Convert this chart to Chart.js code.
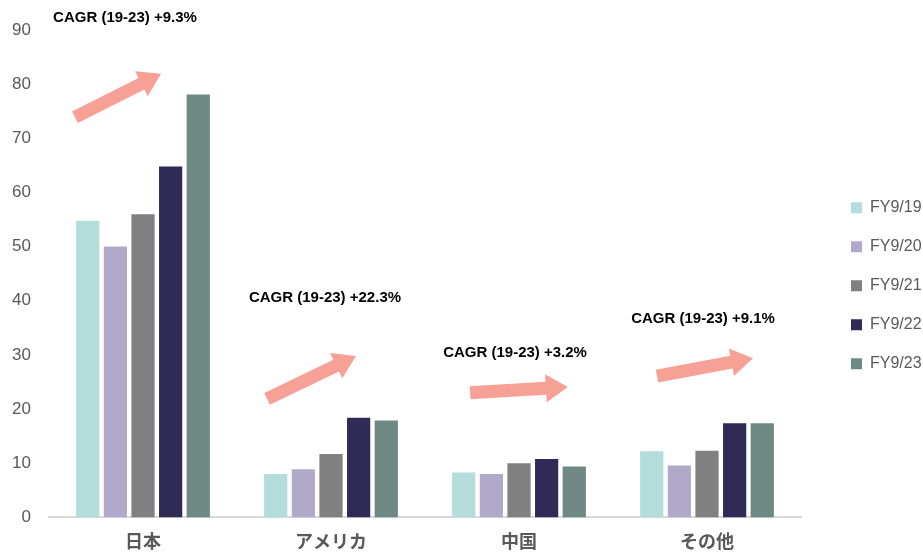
<!DOCTYPE html>
<html>
<head>
<meta charset="utf-8">
<script src="https://cdn.jsdelivr.net/npm/chart.js@4"></script>
<style>
  html, body { margin: 0; padding: 0; background: #fff; }
  #wrap { width: 923px; height: 553px; }
</style>
</head>
<body>
<div id="wrap"><canvas id="chart" width="923" height="553"></canvas></div>
<script>
// chart data
const categories = ['日本', 'アメリカ', '中国', 'その他'];
const seriesNames = ['FY9/19', 'FY9/20', 'FY9/21', 'FY9/22', 'FY9/23'];
const fy19 = [54.8, 8.0, 8.3, 12.2];
const fy20 = [50.0, 8.9, 8.0, 9.6];
const fy21 = [56.0, 11.7, 10.0, 12.3];
const fy22 = [64.8, 18.4, 10.8, 17.4];
const fy23 = [78.1, 17.9, 9.4, 17.4];
const cagrLabels = ['CAGR (19-23) +9.3%', 'CAGR (19-23) +22.3%', 'CAGR (19-23) +3.2%', 'CAGR (19-23) +9.1%'];
const yTicks = [0, 10, 20, 30, 40, 50, 60, 70, 80, 90];

const colors = ['#b3dcdb', '#b0a9c9', '#808080', '#302a56', '#6e8883'];
const FONT = "'Liberation Sans', Arial, 'Noto Sans CJK JP', sans-serif";

// annotation placement: x as fraction of category width from its centre, y in axis units
const labelPos = [
    { dx: -0.096, y: 92.2 },
    { dx: -0.032, y: 40.6 },
    { dx: -0.021, y: 30.4 },
    { dx: -0.021, y: 36.7 }
];
const arrowPos = [
    { x0: -0.362, y0: 73.9, x1: 0.096, y1: 81.9 },
    { x0: -0.34, y0: 21.9, x1: 0.133, y1: 29.8 },
    { x0: -0.26, y0: 23.0, x1: 0.26, y1: 24.1 },
    { x0: -0.266, y0: 26.1, x1: 0.245, y1: 29.4 }
];

const seriesData = [fy19, fy20, fy21, fy22, fy23];

function drawArrow(ctx, x0, y0, x1, y1) {
    const ang = Math.atan2(y1 - y0, x1 - x0);
    const len = Math.hypot(x1 - x0, y1 - y0);
    const shaft = 6.5, head = 14, headLen = 22;
    ctx.save();
    ctx.translate(x0, y0);
    ctx.rotate(ang);
    ctx.beginPath();
    ctx.moveTo(0, -shaft);
    ctx.lineTo(len - headLen, -shaft);
    ctx.lineTo(len - headLen, -head);
    ctx.lineTo(len, 0);
    ctx.lineTo(len - headLen, head);
    ctx.lineTo(len - headLen, shaft);
    ctx.lineTo(0, shaft);
    ctx.closePath();
    ctx.fillStyle = '#f7a196';
    ctx.fill();
    ctx.restore();
}

const cagrPlugin = {
    id: 'cagr',
    afterDatasetsDraw(chart) {
        const ctx = chart.ctx;
        const x = chart.scales.x, y = chart.scales.y;
        const catW = x.getPixelForValue(1) - x.getPixelForValue(0);
        categories.forEach((c, i) => {
            const cx = x.getPixelForValue(i);
            const a = arrowPos[i];
            drawArrow(ctx, cx + a.x0 * catW, y.getPixelForValue(a.y0), cx + a.x1 * catW, y.getPixelForValue(a.y1));
            const l = labelPos[i];
            ctx.save();
            ctx.font = 'bold 15px ' + FONT;
            ctx.fillStyle = '#000';
            ctx.textAlign = 'center';
            ctx.textBaseline = 'middle';
            ctx.fillText(cagrLabels[i], cx + l.dx * catW, y.getPixelForValue(l.y));
            ctx.restore();
        });
    }
};

const legendFix = {
    id: 'legendFix',
    beforeInit(chart) {
        const fit = chart.legend.fit;
        chart.legend.fit = function () {
            fit.call(this);
            this.width = 122;
        };
    },
    afterLayout(chart) {
        chart.legend.left += 27;
        chart.legend.top += 12;
        chart.legend.bottom += 12;
    }
};

new Chart(document.getElementById('chart').getContext('2d'), {
    type: 'bar',
    data: {
        labels: categories,
        datasets: seriesNames.map((name, i) => ({
            label: name,
            data: seriesData[i],
            backgroundColor: colors[i],
            borderWidth: 0,
            categoryPercentage: 0.735,
            barPercentage: 0.84
        }))
    },
    options: {
        responsive: false,
        animation: false,
        layout: { padding: { top: 30, left: 10, right: 0, bottom: 0 } },
        scales: {
            x: {
                grid: { display: false, drawTicks: false },
                border: { color: '#d9d9d9', width: 2 },
                ticks: {
                    color: '#595959',
                    padding: 15,
                    font: { family: FONT, size: 18, weight: 'bold' }
                },
                afterFit(scale) {
                    scale.height -= 16;
                }
            },
            y: {
                min: 0,
                max: 90,
                afterBuildTicks(axis) {
                    axis.ticks = yTicks.map(v => ({ value: v }));
                },
                afterFit(scale) {
                    scale.width = 39;
                },
                grid: { display: false, drawTicks: false },
                border: { display: false },
                ticks: {
                    color: '#595959',
                    padding: 18,
                    font: { family: FONT, size: 17 }
                }
            }
        },
        plugins: {
            legend: {
                position: 'right',
                fullSize: false,
                labels: {
                    boxWidth: 11,
                    boxHeight: 11,
                    padding: 23,
                    color: '#595959',
                    font: { family: FONT, size: 16 }
                }
            },
            tooltip: { enabled: false }
        }
    },
    plugins: [cagrPlugin, legendFix]
});
</script>
</body>
</html>
